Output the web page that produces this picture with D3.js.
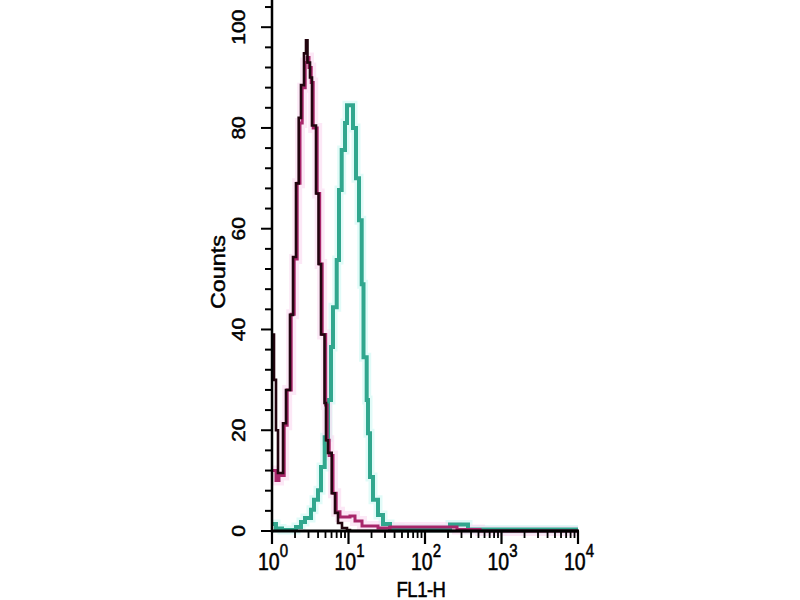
<!DOCTYPE html>
<html>
<head>
<meta charset="utf-8">
<script src="https://cdn.jsdelivr.net/npm/d3@7"></script>
<style>
  html, body { margin: 0; padding: 0; background: #ffffff; }
  svg { display: block; }
  text { font-family: "Liberation Sans", Arial, sans-serif; fill: #000; stroke: #000; stroke-width: 0.45px; }
</style>
</head>
<body>
<svg id="chart" width="800" height="600"></svg>
<script>
// ---- data (FL1-H bin start values and counts, step histograms) ----
const blackX = [1.00,1.062,1.128,1.198,1.393,1.524,1.719,1.882,2.059,2.234,2.393,2.620,2.783,2.911,3.139,3.334,3.760,4.055,4.370,4.857,5.081,5.395,6.032,6.661,7.291,8.222,9.559,10.46,10000];
const blackY = [39,30,20,11.5,21.4,28,42.9,54.4,69,82,88.5,94.8,97.4,93,90,80.5,67,53,39,25.4,18,15.5,7.5,3.6,1.6,0.6,0.2,0,0];

const pinkX = [1.00,1.128,1.234,1.444,1.580,1.782,1.951,2.135,2.323,2.482,2.716,2.885,3.045,3.254,3.457,3.898,4.203,4.532,5.035,5.268,5.594,6.272,6.907,7.743,10.46,12.16,15.02,24.30,34.86,262,524,10000];
const pinkY = [12,10,11,21,28,43,54,69,81,88,93,94,92,89,80,67,53,39,25,18,15,7.5,3.8,2.8,3,2,1,0.6,0.8,0.3,0,0];

const tealX = [1.00,1.128,1.351,2.059,2.393,2.700,3.235,3.540,3.994,4.370,4.886,5.395,5.905,6.272,7.013,7.513,8.149,9.000,9.559,11.45,12.53,13.72,14.88,15.71,17.29,17.98,19.10,20.91,24.30,28.25,34.86,47.13,212.3,364.8,10000];
const tealY = [1.4,0.5,0.2,0.8,1.8,2.6,4.2,6.2,8.1,12.7,18.6,26,36.5,44.4,53.8,67.7,75.6,81,84.5,80,70,61.7,49,34.5,26,19.4,10.7,6.2,3.2,1.4,0.6,0.5,1.3,0.3,0.3];

const xMajor = [1, 10, 100, 1000, 10000];
const xExponents = ["0", "1", "2", "3", "4"];
const yMajor = [0, 20, 40, 60, 80, 100];
const yLabels = ["0", "20", "40", "60", "80", "100"];
const xTitle = "FL1-H";
const yTitle = "Counts";

// ---- scales ----
const svg = d3.select("#chart");
const x = d3.scaleLog().domain([1, 10000]).range([272, 578]);
const y = d3.scaleLinear().domain([0, 105]).range([531, 2]);

// ---- curves ----
const line = d3.line().x(d => x(d[0])).y(d => y(d[1])).curve(d3.curveStepAfter);
const zip = (a, b) => a.map((v, i) => [v, b[i]]);

// soft glows (jpeg-like halo)
svg.append("path").attr("d", line(zip(tealX, tealY)))
  .attr("fill", "none").attr("stroke", "#b4f4ee").attr("stroke-width", 9).attr("opacity", 0.4);
svg.append("path").attr("d", line(zip(pinkX, pinkY)))
  .attr("fill", "none").attr("stroke", "#f9cdea").attr("stroke-width", 10).attr("opacity", 0.45);

svg.append("path").attr("d", line(zip(tealX, tealY)))
  .attr("fill", "none").attr("stroke", "#31a78e").attr("stroke-width", 4);
svg.append("path").attr("d", line(zip(pinkX, pinkY)))
  .attr("fill", "none").attr("stroke", "#a8266a").attr("stroke-width", 3);
svg.append("path").attr("d", line(zip(blackX, blackY)))
  .attr("fill", "none").attr("stroke", "#22050f").attr("stroke-width", 2.6);

// ---- axes ----
const axisG = svg.append("g");
axisG.append("line").attr("x1", x(1)).attr("x2", x(1)).attr("y1", 0).attr("y2", y(0) + 1.5)
  .attr("stroke", "#000").attr("stroke-width", 2.5);
axisG.append("line").attr("x1", x(1) - 1).attr("x2", x(10000) + 1).attr("y1", y(0)).attr("y2", y(0))
  .attr("stroke", "#000").attr("stroke-width", 3);

const yTicks = d3.range(0, 105, 4);
axisG.selectAll(".ytick").data(yTicks).join("line")
  .attr("x1", x(1)).attr("x2", d => x(1) - (d % 20 === 0 ? 11 : 7))
  .attr("y1", d => y(d)).attr("y2", d => y(d))
  .attr("stroke", "#000").attr("stroke-width", 2);

const xMinor = [];
for (let e = 0; e < 4; e++) for (let m = 2; m <= 9; m++) xMinor.push(m * Math.pow(10, e));
axisG.selectAll(".xminor").data(xMinor).join("line")
  .attr("x1", d => x(d)).attr("x2", d => x(d))
  .attr("y1", y(0)).attr("y2", y(0) + 7)
  .attr("stroke", "#000").attr("stroke-width", 1.8);
axisG.selectAll(".xmajor").data(xMajor).join("line")
  .attr("x1", d => x(d)).attr("x2", d => x(d))
  .attr("y1", y(0)).attr("y2", y(0) + 13)
  .attr("stroke", "#000").attr("stroke-width", 2.2);

xMajor.forEach((v, i) => {
  const t = svg.append("text")
    .attr("transform", `translate(${x(v) + 1},570) scale(1,1.2)`)
    .attr("text-anchor", "middle")
    .style("font-size", "19.5px");
  t.append("tspan").text("10");
  t.append("tspan").attr("dy", -10.5).style("font-size", "15px").text(xExponents[i]);
});

yMajor.forEach((v, i) => {
  svg.append("text")
    .attr("transform", `translate(245,${y(v)}) scale(1,1.2) rotate(-90)`)
    .attr("text-anchor", "middle")
    .style("font-size", "17.5px")
    .text(yLabels[i]);
});

svg.append("text")
  .attr("transform", `translate(421,597) scale(1,1.15)`)
  .attr("text-anchor", "middle")
  .style("font-size", "18.5px")
  .style("letter-spacing", "-0.5px")
  .text(xTitle);
svg.append("text")
  .attr("transform", `translate(225,272) scale(1,1.2) rotate(-90)`)
  .attr("text-anchor", "middle")
  .style("font-size", "19.5px")
  .text(yTitle);
</script>
</body>
</html>
